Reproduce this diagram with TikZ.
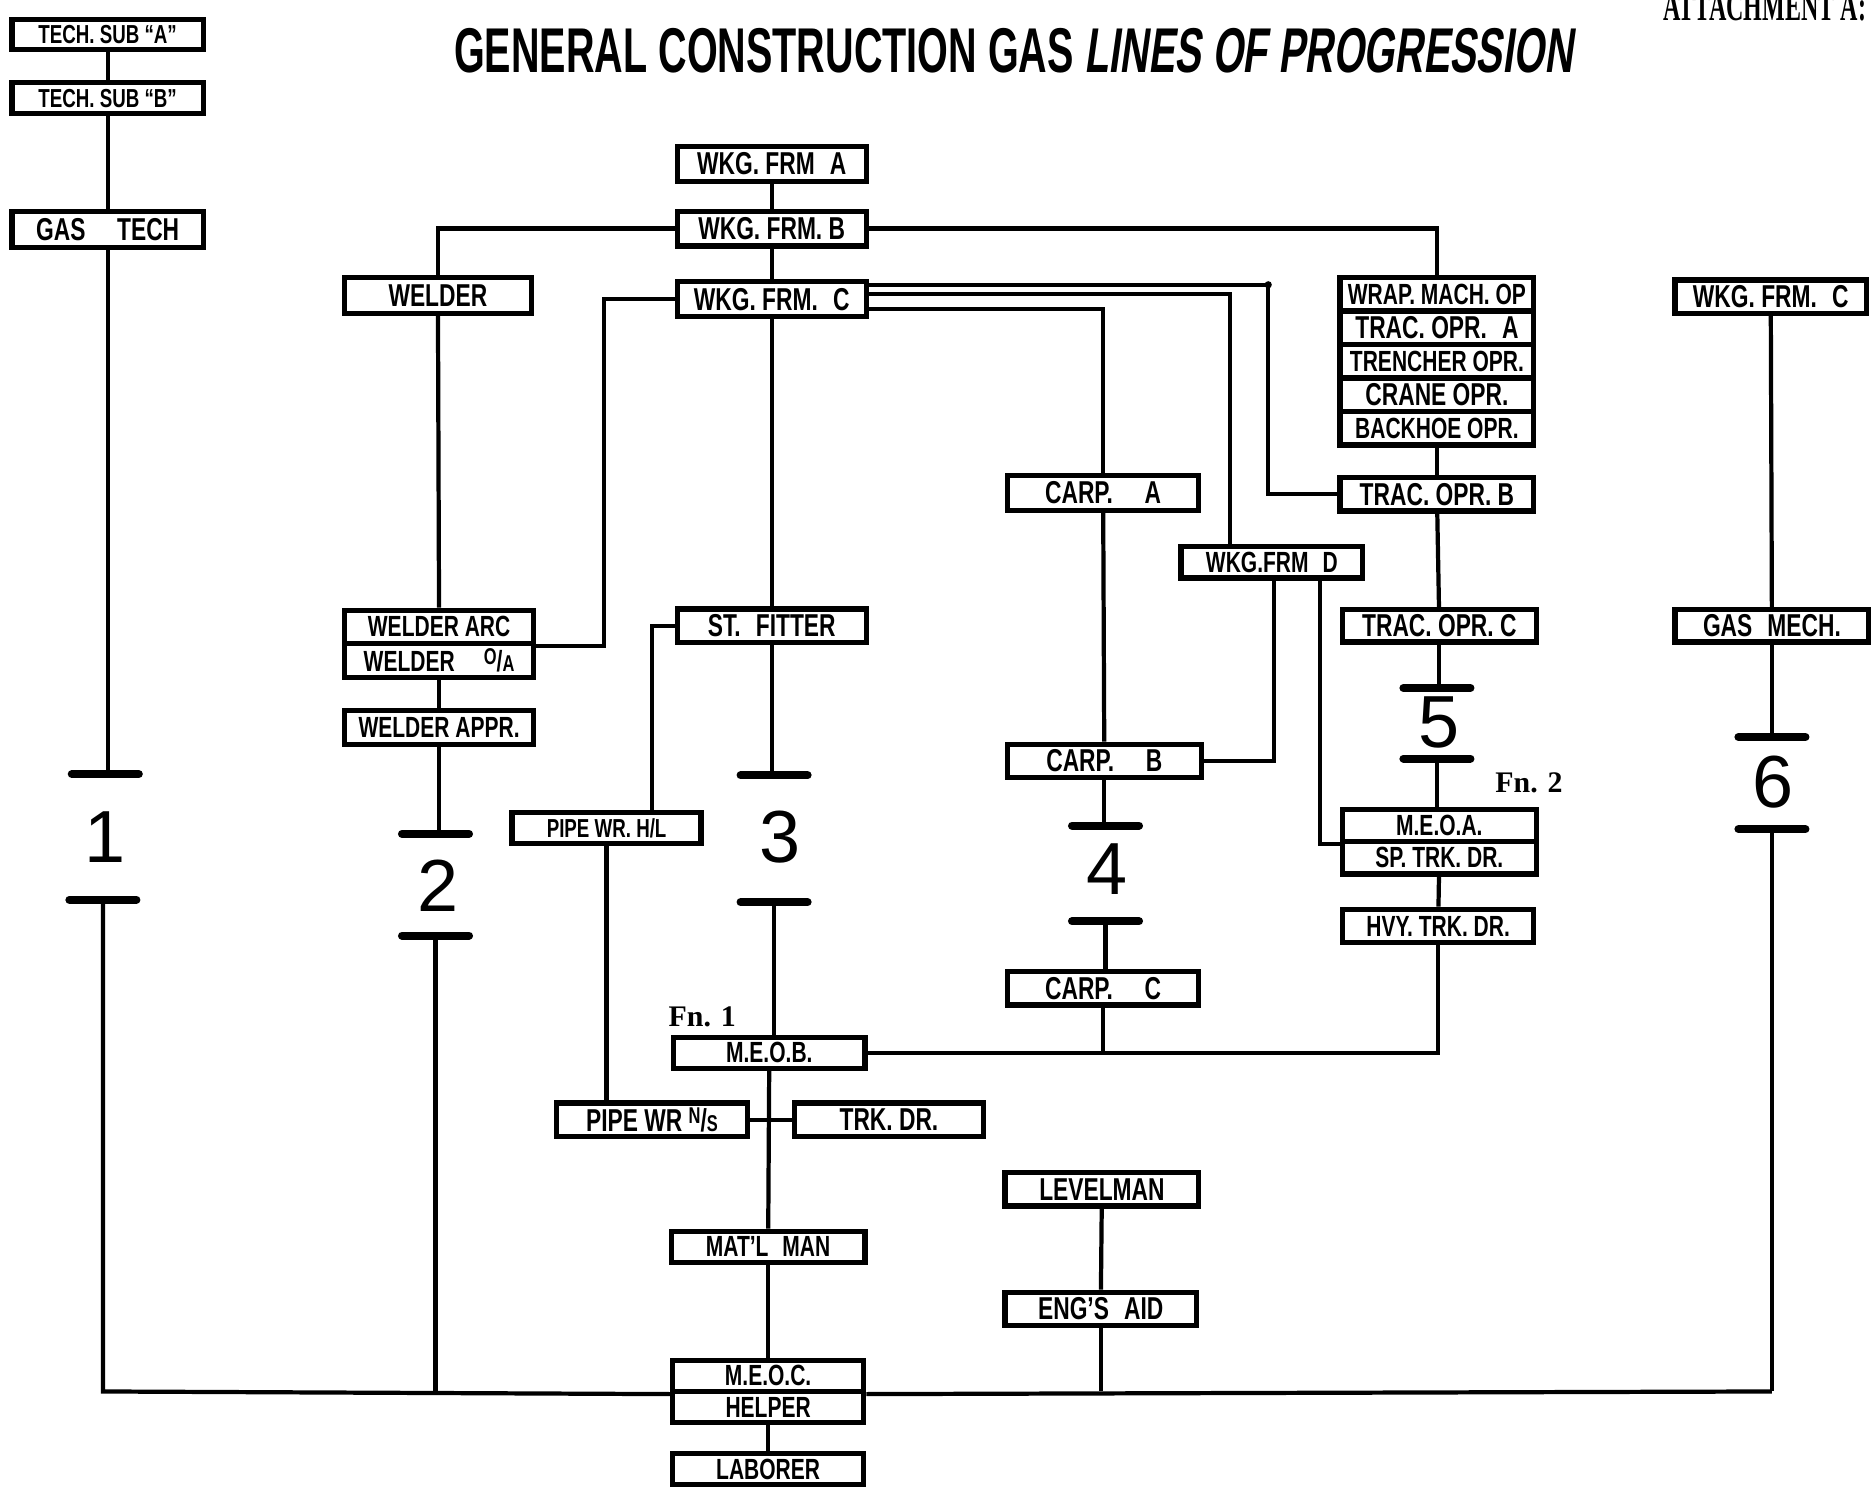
\documentclass[tikz,border=0pt]{standalone}
\usepackage{fontspec}
\usetikzlibrary{calc}
\newfontfamily\hand[FakeStretch=0.72]{Liberation Sans}
\newfontfamily\titlefont[FakeStretch=0.625]{Liberation Sans}
\newfontfamily\titlefontsl[FakeStretch=0.625,FakeSlant=0.14]{Liberation Sans}
\newfontfamily\fnfont{Liberation Serif}
\newfontfamily\numfont{Liberation Sans}
\begin{document}
\begin{tikzpicture}[x=0.011964cm, y=-0.011964cm,
  box/.style={draw, line width=1.5pt, rectangle, inner sep=0pt, fill=white,
     minimum width=1.914cm, minimum height=0.335cm,
     font=\hand\bfseries\fontsize{9}{9}\selectfont},
  tight/.style={font=\hand\bfseries\fontsize{8.3}{8.3}\selectfont},
  small/.style={font=\hand\bfseries\fontsize{7.4}{7.4}\selectfont},
  bw/.style={minimum width=#1*0.011964cm},
  bh/.style={minimum height=#1*0.011964cm},
  conn/.style={line width=1.2pt},
  bar/.style={line width=2.3pt, line cap=round},
  num/.style={font=\numfont\fontsize{21}{21}\selectfont, inner sep=0pt},
  fn/.style={font=\fnfont\bfseries\fontsize{8.5}{9}\selectfont, inner sep=0pt}]
\useasboundingbox (0,0) rectangle (1568,1243);

% title and header
\node[inner sep=0pt] (title) at (847,42) {\titlefont\bfseries\fontsize{18}{18}\selectfont GENERAL CONSTRUCTION GAS \titlefontsl LINES OF PROGRESSION};
\node[anchor=base, inner sep=0pt] (att) at (1475,17) {\scalebox{0.57}[1]{\fnfont\bfseries\fontsize{12}{12}\selectfont ATTACHMENT A:}};

% left column
\node[box, small, bw=160, bh=25] (tsa) at (90,29) {TECH. SUB “A”};
\node[box, small, bw=160, bh=26] (tsb) at (90,82) {TECH. SUB “B”};
\node[box, bw=160, bh=30] (gt) at (90,192) {GAS\quad TECH};

% centre column
\node[box, bw=158, bh=29] (wfa) at (645,137) {WKG. FRM\; A};
\node[box, bw=158, bh=29] (wfb) at (645,191) {WKG. FRM. B};
\node[box, bw=158, bh=29] (wfc) at (645,250) {WKG. FRM.\; C};
\node[box, bw=158, bh=28] (stf) at (645,523) {ST.\; FITTER};
\node[box, bw=158, bh=26, small] (pwhl) at (507,692) {PIPE WR. H/L};
\node[box, bw=160, bh=26, tight] (meob) at (643,880) {M.E.O.B.};
\node[box, bw=160, bh=28] (pwns) at (545,936) {PIPE WR \raisebox{2pt}{\fontsize{6.5}{6.5}\selectfont N}/\fontsize{6.5}{6.5}\selectfont S};
\node[box, bw=158, bh=28] (trk) at (743,936) {TRK. DR.};
\node[box, bw=162, bh=26, tight] (matl) at (642,1042) {MAT’L\; MAN};
\node[box, bw=160, bh=26, tight] (meoc) at (642,1150) {M.E.O.C.};
\node[box, bw=160, bh=26, tight] (helper) at (642,1176) {HELPER};
\node[box, bw=160, bh=26, tight] (laborer) at (642,1228) {LABORER};

% welder column
\node[box, bw=156, bh=30] (welder) at (366,247) {WELDER};
\node[box, bw=158, bh=28, tight] (wa) at (367,524) {WELDER ARC};
\node[box, bw=158, bh=28, tight] (wo) at (367,552) {WELDER\quad\raisebox{2pt}{\fontsize{6.5}{6.5}\selectfont O}/\fontsize{6.5}{6.5}\selectfont A};
\node[box, bw=158, bh=28, tight] (wap) at (367,608) {WELDER APPR.};

% carpenter column
\node[box, bw=160, bh=29] (carpa) at (922,412) {CARP.\quad A};
\node[box, bw=152, bh=26, tight] (wfd) at (1063,470) {WKG.FRM\; D};
\node[box, bw=162, bh=28] (carpb) at (923,636) {CARP.\quad B};
\node[box, bw=160, bh=28] (carpc) at (922,826) {CARP.\quad C};
\node[box, bw=162, bh=28] (level) at (921,994) {LEVELMAN};
\node[box, bw=160, bh=28] (eng) at (920,1094) {ENG’S\; AID};

% equipment column
\node[box, bw=162, bh=28, tight] (wrap) at (1201,246) {WRAP. MACH. OP};
\node[box, bw=162, bh=28] (traca) at (1201,274) {TRAC. OPR.\; A};
\node[box, bw=162, bh=28, tight] (trench) at (1201,302) {TRENCHER OPR.};
\node[box, bw=162, bh=28] (crane) at (1201,330) {CRANE OPR.};
\node[box, bw=162, bh=28, tight] (backhoe) at (1201,358) {BACKHOE OPR.};
\node[box, bw=162, bh=28] (tracb) at (1201,413) {TRAC. OPR. B};
\node[box, bw=162, bh=27] (tracc) at (1203,523) {TRAC. OPR. C};
\node[box, bw=162, bh=27, tight] (meoa) at (1203,690) {M.E.O.A.};
\node[box, bw=162, bh=27, tight] (sptrk) at (1203,717) {SP. TRK. DR.};
\node[box, bw=160, bh=28, tight] (hvy) at (1202,774) {HVY. TRK. DR.};

% far right column
\node[box, bw=160, bh=28] (wfc2) at (1480,248) {WKG. FRM.\; C};
\node[box, bw=162, bh=27] (gasmech) at (1481,523) {GAS\; MECH.};

% footnote labels
\node[fn] (fn1) at (587,850) {Fn. 1};
\node[fn] (fn2) at (1278,654) {Fn. 2};

% level bars and numbers
\coordinate (b1t) at (88,647);  \coordinate (b1b) at (86,752);
\coordinate (b2t) at (364,697); \coordinate (b2b) at (364,782);
\coordinate (b3t) at (647,648); \coordinate (b3b) at (647,754);
\coordinate (b4t) at (924,690); \coordinate (b4b) at (924,770);
\coordinate (b5t) at (1201,575); \coordinate (b5b) at (1201,634);
\coordinate (b6t) at (1481,616); \coordinate (b6b) at (1481,693);
\foreach \b in {b1t,b1b,b2t,b2b,b3t,b3b,b4t,b4b,b5t,b5b,b6t,b6b}
  \draw[bar] (\b) ++(-28,0) -- ++(56,0);
\node[num] (n1) at (88,700) {1};
\node[num] (n2) at (366,740) {2};
\node[num] (n3) at (652,700) {3};
\node[num] (n4) at (925,726) {4};
\node[num] (n5) at (1203,604) {5};
\node[num] (n6) at (1482,654) {6};

\coordinate (bl) at (86,1163);
\coordinate (br) at (1481,1163);
\coordinate (c1) at (505,250);
\coordinate (c2) at (545,523);
\coordinate (r1) at (1060,413);

% connectors: left column
\draw[conn] (tsa) -- (tsb);
\draw[conn] (tsb) -- (gt);
\draw[conn] (gt.south) -- (gt.south |- b1t);
\draw[conn] (b1b) -- (bl) -- (meoc.south west);
\draw[conn] (meoc.south east) -- (br);

% welder column
\draw[conn] (wfb.west) -| (welder.north);
\draw[conn] (welder) -- (wa);
\draw[conn] (wo) -- (wap);
\draw[conn] (wap.south) -- (wap.south |- b2t);
\draw[conn] (b2b) -- (b2b |- bl);
\draw[conn] (wfc.west) -- (c1) |- (wa.south east);

% centre column
\draw[conn] (wfa) -- (wfb);
\draw[conn] (wfb) -- (wfc);
\draw[conn] (wfc) -- (stf);
\draw[conn] (stf.south) -- (stf.south |- b3t);
\draw[conn] (b3b) -- (b3b |- meob.north);
\draw[conn] (stf.west) -- (c2) -- (c2 |- pwhl.north);
\draw[conn] (pwhl.south) -- (pwhl.south |- pwns.north);
\draw[conn] (meob) -- (matl);
\draw[conn] (pwns.east) -- (trk.west);
\draw[conn] (matl) -- (meoc);
\draw[conn] (helper) -- (laborer);
\draw[conn] (meob.east) -| (hvy.south);

% branches from WKG. FRM. C to the right
\draw[conn] ($(wfc.east)+(0,-12)$) -| (r1) -- (tracb.west);
\draw[conn] ($(wfc.east)+(0,-4)$) -| ($(wfd.north)+(-35,0)$);
\draw[conn] ($(wfc.east)+(0,8)$) -| (carpa.north);
\fill (1060,238) circle[radius=3];

% carpenter column
\draw[conn] (carpa) -- (carpb);
\draw[conn] ($(wfd.south)+(2,0)$) |- (carpb.east);
\draw[conn] ($(wfd.south)+(40,0)$) |- (meoa.south west);
\draw[conn] (carpb.south) -- (carpb.south |- b4t);
\draw[conn] (b4b) -- (b4b |- carpc.north);
\draw[conn] (carpc.south) -- (carpc.south |- meob.east);
\draw[conn] (level) -- (eng);
\draw[conn] (eng.south) -- (eng.south |- bl);

% equipment column
\draw[conn] (wfb.east) -| (wrap.north);
\draw[conn] (backhoe) -- (tracb);
\draw[conn] (tracb) -- (tracc);
\draw[conn] (tracc.south) -- (tracc.south |- b5t);
\draw[conn] (b5b) -- (b5b |- meoa.north);
\draw[conn] (sptrk) -- (hvy);

% far right
\draw[conn] (wfc2) -- (gasmech);
\draw[conn] (gasmech.south) -- (gasmech.south |- b6t);
\draw[conn] (b6b) -- (br);
\end{tikzpicture}
\end{document}
